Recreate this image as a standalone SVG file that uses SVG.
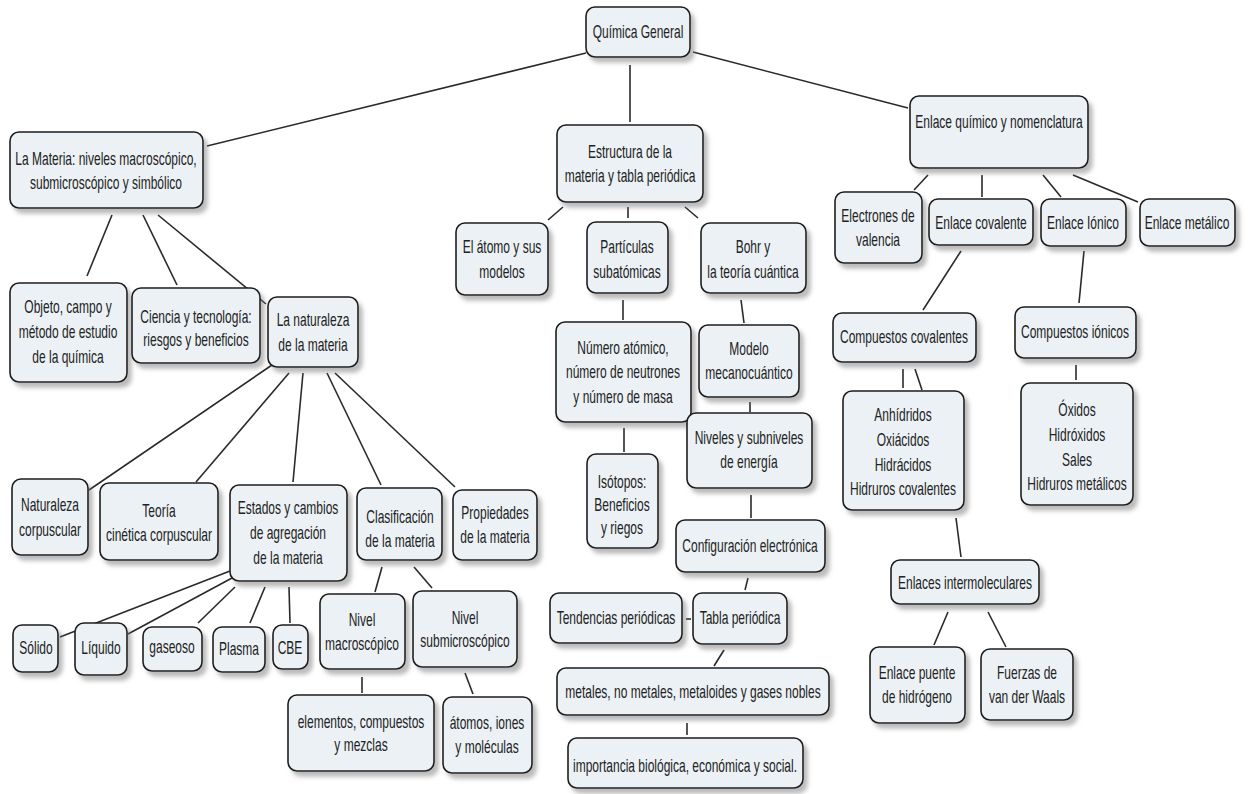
<svg xmlns="http://www.w3.org/2000/svg" width="1248" height="794" viewBox="0 0 1248 794">
<defs>
<filter id="sh" x="-10%" y="-10%" width="130%" height="140%">
<feDropShadow dx="4" dy="5" stdDeviation="2" flood-color="#777" flood-opacity="0.5"/>
</filter>
<style>
.b{fill:#ebf1f5;stroke:#1e1e1e;stroke-width:1.6;filter:url(#sh)}
.t{font-family:"Liberation Sans",Arial,sans-serif;font-size:18px;fill:#222;text-anchor:middle}
.c line{stroke:#2a2a2a;stroke-width:1.6}
</style>
</defs>
<rect width="1248" height="794" fill="#fff"/>
<g class="c" id="connectors">
<line x1="586" y1="53" x2="207" y2="146"/>
<line x1="630" y1="65" x2="630" y2="122"/>
<line x1="693" y1="52" x2="908" y2="108"/>
<line x1="563" y1="207" x2="548" y2="220"/>
<line x1="628" y1="207" x2="628" y2="218"/>
<line x1="685" y1="207" x2="698" y2="218"/>
<line x1="623" y1="300" x2="623" y2="320"/>
<line x1="741" y1="300" x2="744" y2="323"/>
<line x1="750" y1="402" x2="750" y2="412"/>
<line x1="624" y1="428" x2="624" y2="452"/>
<line x1="751" y1="495" x2="751" y2="518"/>
<line x1="748" y1="578" x2="745" y2="590"/>
<line x1="686" y1="619" x2="691" y2="619"/>
<line x1="724" y1="650" x2="714" y2="666"/>
<line x1="687" y1="723" x2="687" y2="735"/>
<line x1="928" y1="175" x2="914" y2="190"/>
<line x1="982" y1="175" x2="982" y2="197"/>
<line x1="1043" y1="175" x2="1061" y2="197"/>
<line x1="1073" y1="175" x2="1138" y2="202"/>
<line x1="961" y1="251" x2="923" y2="310"/>
<line x1="1084" y1="251" x2="1079" y2="303"/>
<line x1="903" y1="369" x2="903" y2="388"/>
<line x1="915" y1="369" x2="922" y2="390"/>
<line x1="956" y1="518" x2="961" y2="557"/>
<line x1="1076" y1="365" x2="1076" y2="380"/>
<line x1="948" y1="612" x2="934" y2="645"/>
<line x1="988" y1="612" x2="1006" y2="647"/>
<line x1="112" y1="215" x2="87" y2="276"/>
<line x1="143" y1="215" x2="177" y2="285"/>
<line x1="158" y1="215" x2="266" y2="304"/>
<line x1="272" y1="365" x2="89" y2="490"/>
<line x1="289" y1="373" x2="196" y2="482"/>
<line x1="303" y1="373" x2="293" y2="482"/>
<line x1="327" y1="373" x2="381" y2="485"/>
<line x1="335" y1="373" x2="455" y2="487"/>
<line x1="230" y1="571" x2="60" y2="637"/>
<line x1="232" y1="578" x2="128" y2="634"/>
<line x1="235" y1="587" x2="198" y2="623"/>
<line x1="265" y1="587" x2="250" y2="623"/>
<line x1="289" y1="587" x2="290" y2="623"/>
<line x1="382" y1="567" x2="375" y2="592"/>
<line x1="414" y1="567" x2="432" y2="588"/>
<line x1="362" y1="677" x2="362" y2="693"/>
<line x1="465" y1="673" x2="473" y2="694"/>
</g>
<g id="quimica"><rect class="b" x="586" y="7" width="104" height="50" rx="9"/><text class="t" transform="translate(638,0) scale(0.667,1)"><tspan x="0" y="38">Química General</tspan></text></g>
<g id="materia"><rect class="b" x="10" y="132" width="193" height="76" rx="9"/><text class="t" transform="translate(106,0) scale(0.667,1)"><tspan x="0" y="165">La Materia: niveles macroscópico,</tspan><tspan x="0" y="189">submicroscópico y simbólico</tspan></text></g>
<g id="estructura"><rect class="b" x="557" y="125" width="146" height="77" rx="9"/><text class="t" transform="translate(630,0) scale(0.667,1)"><tspan x="0" y="158">Estructura de la</tspan><tspan x="0" y="182">materia y tabla periódica</tspan></text></g>
<g id="enlace"><rect class="b" x="910" y="96" width="178" height="72" rx="9"/><text class="t" transform="translate(999,0) scale(0.667,1)"><tspan x="0" y="128">Enlace químico y nomenclatura</tspan></text></g>
<g id="atomo"><rect class="b" x="456" y="223" width="92" height="72" rx="9"/><text class="t" transform="translate(502,0) scale(0.667,1)"><tspan x="0" y="253">El átomo y sus</tspan><tspan x="0" y="278">modelos</tspan></text></g>
<g id="particulas"><rect class="b" x="587" y="222" width="81" height="71" rx="9"/><text class="t" transform="translate(627,0) scale(0.667,1)"><tspan x="0" y="253">Partículas</tspan><tspan x="0" y="278">subatómicas</tspan></text></g>
<g id="bohr"><rect class="b" x="701" y="223" width="105" height="70" rx="9"/><text class="t" transform="translate(753,0) scale(0.667,1)"><tspan x="0" y="253">Bohr y</tspan><tspan x="0" y="278">la teoría cuántica</tspan></text></g>
<g id="numero"><rect class="b" x="556" y="322" width="135" height="100" rx="9"/><text class="t" transform="translate(623,0) scale(0.667,1)"><tspan x="0" y="354">Número atómico,</tspan><tspan x="0" y="378">número de neutrones</tspan><tspan x="0" y="403">y número de masa</tspan></text></g>
<g id="modelo"><rect class="b" x="699" y="325" width="100" height="72" rx="9"/><text class="t" transform="translate(749,0) scale(0.667,1)"><tspan x="0" y="355">Modelo</tspan><tspan x="0" y="379">mecanocuántico</tspan></text></g>
<g id="niveles"><rect class="b" x="687" y="413" width="125" height="75" rx="9"/><text class="t" transform="translate(749,0) scale(0.667,1)"><tspan x="0" y="444">Niveles y subniveles</tspan><tspan x="0" y="468">de energía</tspan></text></g>
<g id="isotopos"><rect class="b" x="587" y="454" width="71" height="94" rx="9"/><text class="t" transform="translate(622,0) scale(0.667,1)"><tspan x="0" y="488">Isótopos:</tspan><tspan x="0" y="511">Beneficios</tspan><tspan x="0" y="534">y riegos</tspan></text></g>
<g id="config"><rect class="b" x="676" y="520" width="149" height="52" rx="9"/><text class="t" transform="translate(750,0) scale(0.667,1)"><tspan x="0" y="552">Configuración electrónica</tspan></text></g>
<g id="tendencias"><rect class="b" x="550" y="593" width="132" height="50" rx="9"/><text class="t" transform="translate(616,0) scale(0.667,1)"><tspan x="0" y="624">Tendencias periódicas</tspan></text></g>
<g id="tabla"><rect class="b" x="693" y="593" width="94" height="51" rx="9"/><text class="t" transform="translate(740,0) scale(0.667,1)"><tspan x="0" y="624">Tabla periódica</tspan></text></g>
<g id="metales"><rect class="b" x="557" y="668" width="272" height="47" rx="9"/><text class="t" transform="translate(693,0) scale(0.667,1)"><tspan x="0" y="698">metales, no metales, metaloides y gases nobles</tspan></text></g>
<g id="importancia"><rect class="b" x="568" y="738" width="235" height="50" rx="9"/><text class="t" transform="translate(685,0) scale(0.667,1)"><tspan x="0" y="772">importancia biológica, económica y social.</tspan></text></g>
<g id="propiedades"><rect class="b" x="453" y="490" width="84" height="70" rx="9"/><text class="t" transform="translate(495,0) scale(0.667,1)"><tspan x="0" y="519">Propiedades</tspan><tspan x="0" y="543">de la materia</tspan></text></g>
<g id="electrones"><rect class="b" x="835" y="192" width="87" height="71" rx="9"/><text class="t" transform="translate(878,0) scale(0.667,1)"><tspan x="0" y="222">Electrones de</tspan><tspan x="0" y="246">valencia</tspan></text></g>
<g id="covalente"><rect class="b" x="929" y="199" width="104" height="46" rx="9"/><text class="t" transform="translate(981,0) scale(0.667,1)"><tspan x="0" y="229">Enlace covalente</tspan></text></g>
<g id="ionico"><rect class="b" x="1041" y="199" width="85" height="47" rx="9"/><text class="t" transform="translate(1083,0) scale(0.667,1)"><tspan x="0" y="229">Enlace Iónico</tspan></text></g>
<g id="metalico"><rect class="b" x="1140" y="199" width="95" height="47" rx="9"/><text class="t" transform="translate(1187,0) scale(0.667,1)"><tspan x="0" y="229">Enlace metálico</tspan></text></g>
<g id="compcov"><rect class="b" x="833" y="313" width="143" height="49" rx="9"/><text class="t" transform="translate(904,0) scale(0.667,1)"><tspan x="0" y="343">Compuestos covalentes</tspan></text></g>
<g id="compion"><rect class="b" x="1015" y="307" width="121" height="51" rx="9"/><text class="t" transform="translate(1075,0) scale(0.667,1)"><tspan x="0" y="338">Compuestos iónicos</tspan></text></g>
<g id="anhidridos"><rect class="b" x="843" y="391" width="121" height="119" rx="9"/><text class="t" transform="translate(903,0) scale(0.667,1)"><tspan x="0" y="421">Anhídridos</tspan><tspan x="0" y="446">Oxiácidos</tspan><tspan x="0" y="471">Hidrácidos</tspan><tspan x="0" y="495">Hidruros covalentes</tspan></text></g>
<g id="oxidos"><rect class="b" x="1021" y="383" width="112" height="122" rx="9"/><text class="t" transform="translate(1077,0) scale(0.667,1)"><tspan x="0" y="416">Óxidos</tspan><tspan x="0" y="441">Hidróxidos</tspan><tspan x="0" y="466">Sales</tspan><tspan x="0" y="490">Hidruros metálicos</tspan></text></g>
<g id="intermol"><rect class="b" x="891" y="560" width="148" height="44" rx="9"/><text class="t" transform="translate(965,0) scale(0.667,1)"><tspan x="0" y="589">Enlaces intermoleculares</tspan></text></g>
<g id="puente"><rect class="b" x="870" y="647" width="95" height="76" rx="9"/><text class="t" transform="translate(917,0) scale(0.667,1)"><tspan x="0" y="679">Enlace puente</tspan><tspan x="0" y="703">de hidrógeno</tspan></text></g>
<g id="fuerzas"><rect class="b" x="981" y="649" width="92" height="71" rx="9"/><text class="t" transform="translate(1027,0) scale(0.667,1)"><tspan x="0" y="679">Fuerzas de</tspan><tspan x="0" y="703">van der Waals</tspan></text></g>
<g id="objeto"><rect class="b" x="10" y="283" width="117" height="99" rx="9"/><text class="t" transform="translate(68,0) scale(0.667,1)"><tspan x="0" y="313">Objeto, campo y</tspan><tspan x="0" y="338">método de estudio</tspan><tspan x="0" y="363">de la química</tspan></text></g>
<g id="ciencia"><rect class="b" x="132" y="288" width="128" height="75" rx="9"/><text class="t" transform="translate(196,0) scale(0.667,1)"><tspan x="0" y="323">Ciencia y tecnología:</tspan><tspan x="0" y="346">riesgos y beneficios</tspan></text></g>
<g id="naturaleza"><rect class="b" x="268" y="297" width="90" height="70" rx="9"/><text class="t" transform="translate(313,0) scale(0.667,1)"><tspan x="0" y="326">La naturaleza</tspan><tspan x="0" y="351">de la materia</tspan></text></g>
<g id="natcorp"><rect class="b" x="12" y="479" width="76" height="76" rx="9"/><text class="t" transform="translate(50,0) scale(0.667,1)"><tspan x="0" y="511">Naturaleza</tspan><tspan x="0" y="536">corpuscular</tspan></text></g>
<g id="teoria"><rect class="b" x="100" y="483" width="118" height="77" rx="9"/><text class="t" transform="translate(159,0) scale(0.667,1)"><tspan x="0" y="517">Teoría</tspan><tspan x="0" y="541">cinética corpuscular</tspan></text></g>
<g id="estados"><rect class="b" x="230" y="485" width="117" height="96" rx="9"/><text class="t" transform="translate(288,0) scale(0.667,1)"><tspan x="0" y="514">Estados y cambios</tspan><tspan x="0" y="539">de agregación</tspan><tspan x="0" y="564">de la materia</tspan></text></g>
<g id="clasif"><rect class="b" x="357" y="488" width="85" height="72" rx="9"/><text class="t" transform="translate(400,0) scale(0.667,1)"><tspan x="0" y="523">Clasificación</tspan><tspan x="0" y="547">de la materia</tspan></text></g>
<g id="solido"><rect class="b" x="13" y="625" width="45" height="47" rx="9"/><text class="t" transform="translate(36,0) scale(0.667,1)"><tspan x="0" y="654">Sólido</tspan></text></g>
<g id="liquido"><rect class="b" x="75" y="623" width="52" height="52" rx="9"/><text class="t" transform="translate(101,0) scale(0.667,1)"><tspan x="0" y="654">Líquido</tspan></text></g>
<g id="gaseoso"><rect class="b" x="143" y="627" width="59" height="44" rx="9"/><text class="t" transform="translate(172,0) scale(0.667,1)"><tspan x="0" y="653">gaseoso</tspan></text></g>
<g id="plasma"><rect class="b" x="213" y="627" width="52" height="45" rx="9"/><text class="t" transform="translate(239,0) scale(0.667,1)"><tspan x="0" y="655">Plasma</tspan></text></g>
<g id="cbe"><rect class="b" x="273" y="625" width="35" height="44" rx="9"/><text class="t" transform="translate(290,0) scale(0.667,1)"><tspan x="0" y="654">CBE</tspan></text></g>
<g id="nivmacro"><rect class="b" x="320" y="594" width="85" height="75" rx="9"/><text class="t" transform="translate(362,0) scale(0.667,1)"><tspan x="0" y="626">Nivel</tspan><tspan x="0" y="650">macroscópico</tspan></text></g>
<g id="nivsub"><rect class="b" x="413" y="591" width="104" height="76" rx="9"/><text class="t" transform="translate(465,0) scale(0.667,1)"><tspan x="0" y="624">Nivel</tspan><tspan x="0" y="647">submicroscópico</tspan></text></g>
<g id="elementos"><rect class="b" x="288" y="695" width="146" height="76" rx="9"/><text class="t" transform="translate(361,0) scale(0.667,1)"><tspan x="0" y="728">elementos, compuestos</tspan><tspan x="0" y="751">y mezclas</tspan></text></g>
<g id="atomos"><rect class="b" x="443" y="697" width="89" height="76" rx="9"/><text class="t" transform="translate(487,0) scale(0.667,1)"><tspan x="0" y="729">átomos, iones</tspan><tspan x="0" y="753">y moléculas</tspan></text></g>
</svg>
